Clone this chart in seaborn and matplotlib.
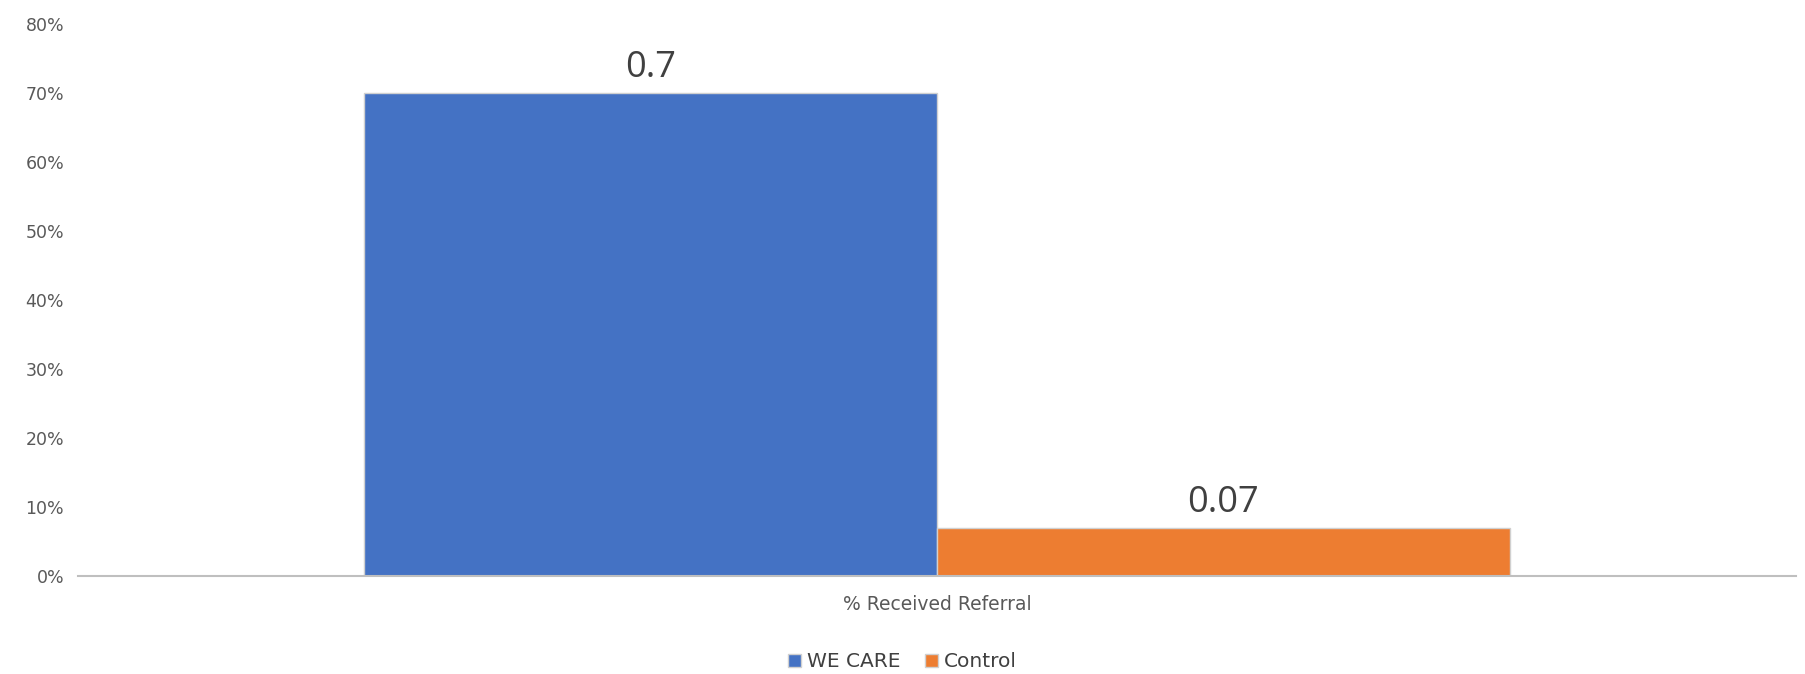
import pandas as pd
import seaborn as sns
import matplotlib.pyplot as plt
from matplotlib.ticker import PercentFormatter

# data
categories = ["% Received Referral"]
groups = ["WE CARE", "Control"]
values = [0.7, 0.07]
colors = ["#4472C4", "#ED7D31"]

df = pd.DataFrame({
    "category": categories * len(groups),
    "group": groups,
    "value": values,
})

sns.set_style("white")
plt.rcParams["font.family"] = ["DejaVu Sans"]

fig = plt.figure(figsize=(18.05, 6.74), dpi=100)
ax = fig.add_axes([0.0432, 0.1454, 0.9518, 0.819])

sns.barplot(data=df, x="category", y="value", hue="group", hue_order=groups,
            palette=colors, saturation=1, width=0.667, edgecolor="#d0d0d0",
            linewidth=1, legend=True, ax=ax)

for cont in ax.containers:
    ax.bar_label(cont, labels=[f"{v:g}" for v in cont.datavalues],
                 padding=5, fontsize=26, color="#404040", family="Open Sans")

ax.set_xlim(-0.5, 0.5)
ax.set_ylim(0, 0.8)
ax.yaxis.set_major_formatter(PercentFormatter(1.0, decimals=0))
ax.set_yticks([i / 10 for i in range(9)])
ax.tick_params(axis="y", labelsize=12.5, labelcolor="#595959", length=0, pad=10)
ax.tick_params(axis="x", labelsize=13.5, labelcolor="#595959", length=0, pad=14)
ax.set_xlabel("")
ax.set_ylabel("")

for side in ["top", "right", "left"]:
    ax.spines[side].set_visible(False)
ax.spines["bottom"].set_color("#bfbfbf")
ax.spines["bottom"].set_linewidth(1.5)

handles, labels = ax.get_legend_handles_labels()
ax.legend_.remove()
fig.legend(handles, labels, loc="center", bbox_to_anchor=(0.5, 0.018), ncol=2,
           frameon=False, fontsize=14.5, handlelength=0.65, handleheight=0.65,
           handletextpad=0.3, columnspacing=1.2, labelcolor="#404040")

fig.savefig("out.png", dpi=100)
